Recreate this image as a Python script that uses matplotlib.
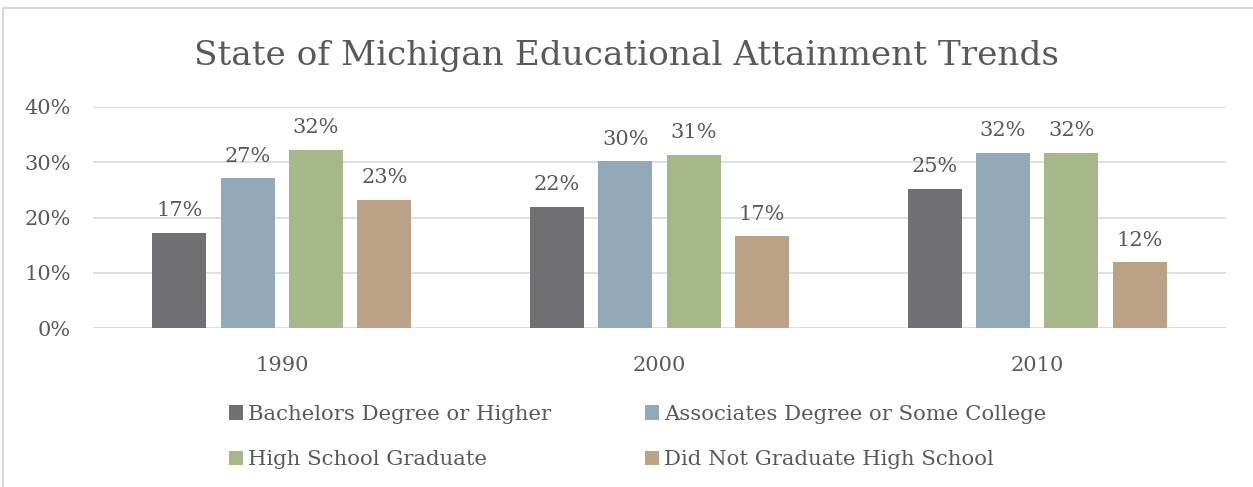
import matplotlib
matplotlib.use("Agg")
import matplotlib.pyplot as plt
from matplotlib.lines import Line2D
from matplotlib.ticker import PercentFormatter
import numpy as np

years = ["1990", "2000", "2010"]
series_names = ["Bachelors Degree or Higher", "Associates Degree or Some College",
                "High School Graduate", "Did Not Graduate High School"]
bachelors = [0.172, 0.219, 0.252]
associates = [0.271, 0.302, 0.317]
high_school = [0.323, 0.313, 0.317]
no_diploma = [0.232, 0.166, 0.119]
colors = ["#717075", "#92A9B8", "#A6B78A", "#BBA287"]

plt.rcParams["font.family"] = ["DejaVu Serif"]
text_color = "#595959"

W, H = 1253, 487
fig = plt.figure(figsize=(W / 100, H / 100), dpi=100)
ax = fig.add_axes([93 / W, 1 - 328 / H, (1226 - 93) / W, (328 - 107) / H])

x = np.arange(len(years))
width = 0.143
step = 0.181
all_series = [bachelors, associates, high_school, no_diploma]
handles = []
for i, (vals, name, c) in enumerate(zip(all_series, series_names, colors)):
    pos = x + (i - 1.5) * step
    bars = ax.bar(pos, vals, width=width, color=c, label=name, zorder=3)
    handles.append(bars)
    for b, v in zip(bars, vals):
        ax.text(b.get_x() + b.get_width() / 2, v + 0.03, f"{v:.0%}",
                ha="center", va="baseline", fontsize=15, color=text_color)

ax.set_xlim(-0.5, 2.5)
ax.set_ylim(0, 0.4)
ax.set_yticks([0, 0.1, 0.2, 0.3, 0.4])
ax.yaxis.set_major_formatter(PercentFormatter(1.0, decimals=0))
ax.set_xticks(x)
ax.set_xticklabels(years)
ax.tick_params(axis="both", length=0, labelsize=15, labelcolor=text_color)
ax.tick_params(axis="x", pad=20)
ax.tick_params(axis="y", pad=16)
ax.grid(axis="y", color="#D9D9D9", linewidth=1.2, zorder=0)
for s in ax.spines.values():
    s.set_visible(False)

fig.text(0.5, 1 - 56 / H, "State of Michigan Educational Attainment Trends",
         ha="center", va="center", fontsize=24.7, color=text_color)

# legend fills row by row in the reference
order = [0, 2, 1, 3]
fig.legend([handles[i] for i in order], [series_names[i] for i in order],
           loc="upper left", bbox_to_anchor=(229 / W, 1 - 405 / H), ncol=2,
           frameon=False, fontsize=15.3, labelcolor=text_color,
           handlelength=0.66, handleheight=0.66, handletextpad=0.25,
           columnspacing=4.4, labelspacing=1.23, borderpad=0, borderaxespad=0)

# chart border
fig.add_artist(Line2D([3 / W, 1], [1 - 8 / H, 1 - 8 / H], color="#D9D9D9", lw=1.5))
fig.add_artist(Line2D([3 / W, 3 / W], [0, 1 - 8 / H], color="#D9D9D9", lw=1.5))

fig.savefig("out.png", dpi=100, facecolor="white")
